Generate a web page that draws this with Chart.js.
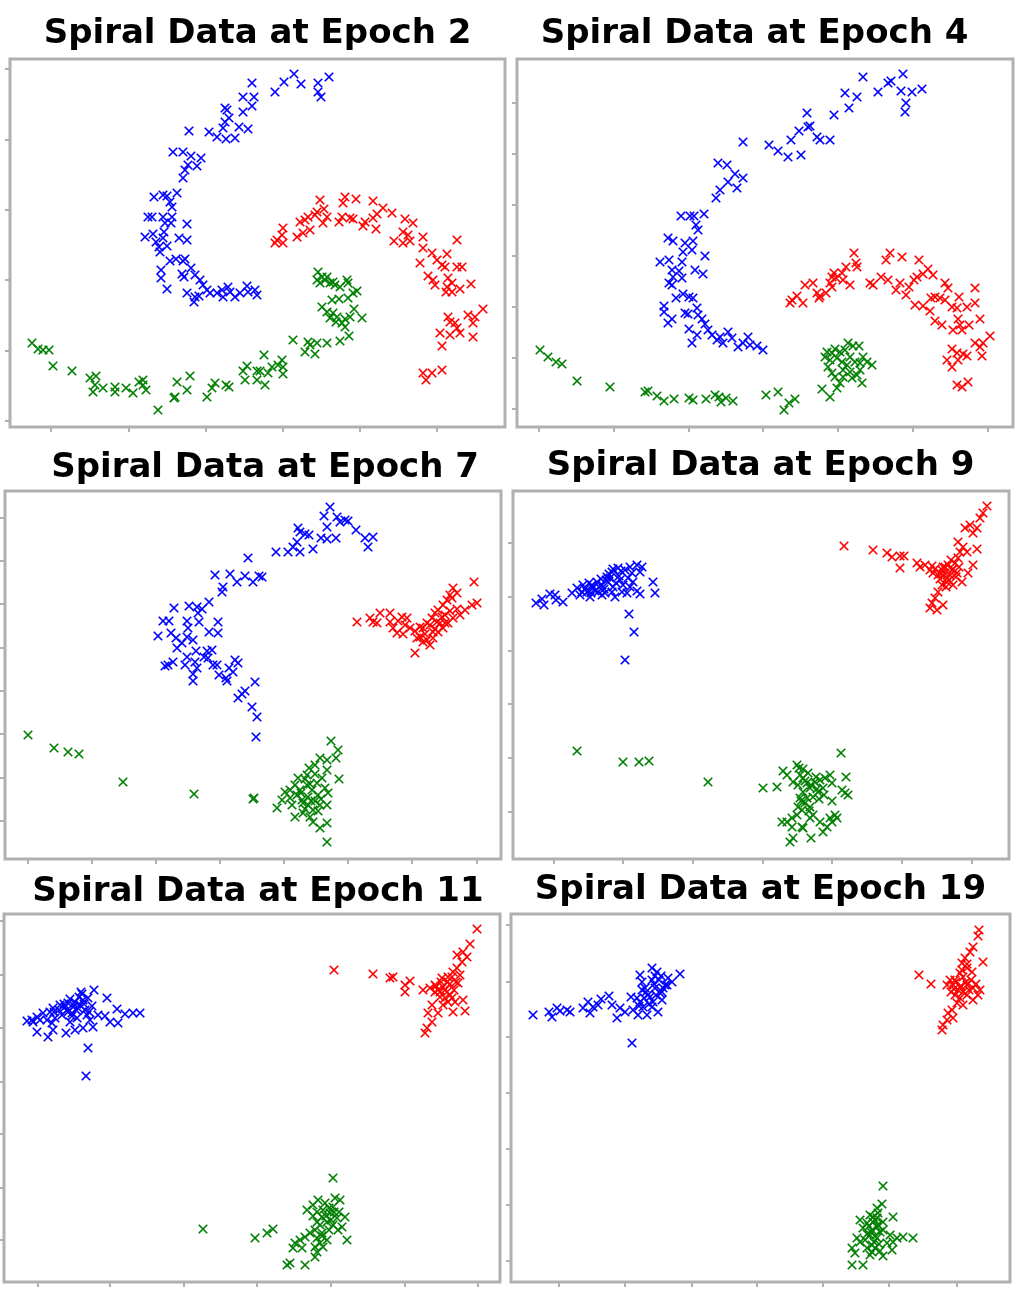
<!DOCTYPE html>
<html>
<head>
<meta charset="utf-8">
<script src="https://cdn.jsdelivr.net/npm/chart.js@4/dist/chart.umd.min.js"></script>
<style>
body { margin: 0; background: #fff; width: 1018px; height: 1290px; position: relative; overflow: hidden; }
canvas { position: absolute; }
</style>
</head>
<body>
<script>
// point positions, in plot units (x from the left edge, y up from the bottom edge)

const ep2Blue = [[242,344],[233,330],[244,330],[242,321],[233,315],[215,319],[217,317],[219,309],[215,305],[213,299],[207,290],[199,295],[216,288],[225,289],[229,300],[238,298],[179,296],[163,275],[173,275],[181,271],[191,269],[187,261],[178,262],[175,257],[173,249],[167,234],[144,230],[153,232],[157,231],[160,225],[162,220],[138,210],[142,210],[153,210],[162,210],[155,204],[161,204],[177,203],[154,195],[135,190],[143,193],[146,185],[153,189],[169,189],[177,187],[149,180],[157,181],[150,175],[160,166],[166,168],[173,166],[175,168],[151,157],[151,149],[172,153],[174,150],[181,159],[185,152],[190,147],[193,142],[157,138],[177,134],[185,130],[184,125],[189,131],[197,137],[200,134],[207,134],[212,137],[213,130],[218,140],[220,135],[225,130],[230,134],[237,141],[238,135],[245,137],[247,132],[265,335],[274,345],[284,353],[291,343],[308,344],[308,335],[311,330],[319,350]];
const ep2Red = [[310,227],[314,218],[335,230],[333,224],[346,228],[363,226],[373,219],[382,214],[367,213],[363,209],[366,198],[355,205],[353,201],[343,208],[340,209],[332,210],[329,205],[317,210],[313,204],[307,215],[305,212],[298,210],[295,207],[290,205],[300,197],[293,194],[287,190],[273,199],[272,192],[267,187],[265,184],[273,184],[395,208],[403,204],[393,195],[398,192],[400,186],[384,186],[393,184],[413,190],[447,187],[413,179],[422,174],[437,173],[410,164],[427,167],[432,162],[435,160],[447,160],[452,160],[418,151],[423,147],[425,142],[438,149],[437,140],[442,144],[436,135],[442,135],[450,138],[461,143],[473,118],[458,112],[465,110],[463,104],[438,110],[440,105],[445,104],[447,99],[430,94],[440,92],[450,94],[463,90],[432,81],[413,54],[416,47],[422,54],[432,57]];
const ep2Green = [[22,84],[28,78],[33,77],[39,77],[43,61],[62,56],[80,49],[86,51],[85,42],[83,35],[93,39],[105,40],[105,35],[116,39],[123,34],[129,45],[133,47],[133,42],[136,37],[148,17],[164,29],[165,30],[167,45],[177,37],[180,51],[197,30],[202,39],[205,44],[216,42],[219,40],[233,56],[237,61],[235,47],[247,56],[247,47],[254,72],[250,56],[258,54],[262,60],[255,42],[272,67],[273,60],[273,53],[268,62],[283,87],[295,75],[298,85],[300,82],[305,73],[307,84],[317,84],[330,86],[339,91],[308,155],[312,150],[307,147],[315,147],[320,144],[325,142],[330,140],[337,147],[338,144],[347,136],[343,134],[322,127],[329,128],[338,129],[312,120],[317,115],[323,114],[327,110],[320,109],[326,105],[332,104],[335,108],[340,110],[344,118],[352,109],[335,100],[317,150],[323,145],[310,144]];
const ep2XTicks = [41,119,196,273,350,427];
const ep2YTicks = [6,76,147,217,287,358];

const ep4Blue = [[226,285],[201,264],[210,262],[218,253],[226,249],[211,245],[203,237],[220,239],[199,229],[164,211],[173,211],[177,211],[187,213],[179,202],[181,197],[151,189],[156,186],[168,184],[176,186],[166,175],[175,177],[188,171],[143,165],[152,167],[165,165],[155,157],[162,156],[178,157],[186,153],[156,150],[165,149],[152,144],[155,142],[166,133],[159,129],[172,130],[176,129],[147,121],[147,115],[168,114],[171,113],[180,119],[155,108],[151,104],[181,112],[185,108],[188,103],[172,98],[191,97],[180,92],[175,84],[195,92],[203,90],[200,87],[206,84],[211,95],[215,89],[221,80],[226,84],[231,90],[233,82],[240,81],[246,77],[252,282],[261,276],[271,270],[284,272],[274,287],[282,296],[290,314],[291,300],[293,301],[300,290],[303,287],[313,287],[317,312],[328,334],[332,319],[340,330],[346,350],[361,335],[371,344],[374,346],[386,353],[384,336],[395,335],[405,338],[389,324],[388,315]];
const ep4Red = [[337,174],[339,164],[340,160],[329,160],[325,154],[317,154],[315,150],[319,149],[326,147],[333,142],[313,144],[315,140],[309,134],[303,131],[300,134],[296,144],[288,142],[280,131],[275,127],[273,124],[286,124],[302,129],[373,174],[369,167],[385,170],[402,167],[411,158],[416,152],[406,153],[400,150],[397,147],[392,140],[383,144],[379,137],[389,132],[371,147],[364,150],[356,142],[353,144],[398,122],[406,121],[413,116],[414,129],[418,130],[423,129],[428,144],[431,139],[428,127],[435,120],[440,119],[442,130],[458,139],[450,120],[458,124],[418,106],[425,102],[441,108],[443,102],[436,97],[445,97],[452,102],[463,108],[473,91],[458,84],[463,80],[466,84],[435,78],[440,74],[446,73],[450,71],[430,67],[441,67],[435,60],[465,71],[440,42],[445,40],[451,45]];
const ep4Green = [[23,77],[31,70],[39,65],[45,63],[60,46],[93,40],[128,35],[131,36],[140,31],[147,26],[157,28],[172,29],[176,27],[189,28],[198,32],[202,30],[204,25],[209,29],[216,26],[249,32],[261,35],[267,17],[272,24],[278,28],[305,38],[313,30],[320,39],[323,44],[318,50],[315,54],[310,75],[308,70],[313,67],[318,78],[323,75],[328,77],[331,84],[336,81],[342,81],[333,70],[338,65],[343,64],[350,65],[355,62],[330,62],[333,55],[340,52],[345,44],[326,50],[335,49],[315,74],[320,69],[325,65],[311,60],[326,57],[343,57],[346,70]];
const ep4XTicks = [22,97,172,246,321,396,471];
const ep4YTicks = [18,69,120,171,222,273,324];

const ep7Blue = [[243,301],[210,284],[225,285],[232,277],[240,283],[248,277],[254,283],[218,272],[217,267],[204,257],[197,250],[192,252],[193,246],[194,237],[184,253],[169,251],[158,238],[164,238],[182,238],[183,231],[153,223],[166,226],[171,221],[177,216],[172,211],[182,222],[188,219],[204,227],[213,237],[213,226],[191,208],[182,202],[180,194],[160,193],[163,194],[168,197],[190,197],[192,191],[188,185],[188,178],[199,202],[202,208],[207,209],[203,201],[208,194],[212,194],[214,184],[221,181],[222,178],[224,191],[230,199],[233,196],[228,187],[240,168],[237,165],[233,161],[250,177],[247,152],[252,142],[251,122],[325,352],[319,343],[332,342],[322,332],[335,337],[340,339],[343,338],[351,329],[360,321],[368,322],[363,312],[293,331],[295,327],[300,325],[304,324],[292,317],[288,312],[283,307],[271,307],[295,307],[308,310],[316,321],[322,320],[331,321],[257,282]];
const ep7Red = [[469,277],[448,271],[445,264],[442,259],[438,254],[433,249],[430,246],[427,241],[422,236],[418,231],[415,222],[410,206],[425,214],[428,221],[433,227],[438,231],[443,236],[448,241],[455,244],[460,249],[467,254],[472,256],[432,237],[437,242],[425,234],[402,241],[397,242],[393,238],[400,234],[405,231],[388,231],[392,226],[398,225],[412,221],[385,246],[385,237],[375,246],[372,236],[365,241],[368,237],[352,237],[422,219],[418,217],[447,261],[452,266],[430,230],[435,236],[428,227],[440,236],[445,248],[420,225],[410,228],[415,232],[452,250],[440,244]];
const ep7Green = [[23,124],[49,111],[63,107],[74,105],[118,77],[189,65],[248,60],[249,61],[326,118],[333,109],[331,101],[334,80],[322,99],[315,101],[310,94],[304,91],[302,84],[322,89],[317,81],[312,76],[320,71],[323,66],[293,81],[290,74],[285,69],[280,67],[277,59],[272,51],[285,61],[292,64],[297,59],[303,54],[308,49],[315,54],[322,54],[290,42],[298,46],[305,42],[308,37],[315,31],[322,36],[322,17],[298,56],[295,69],[307,69],[313,64],[302,74],[287,54],[300,80],[305,75],[310,85],[296,66],[303,62],[310,58],[316,60],[300,50],[306,58],[313,48]];
const ep7XTicks = [23,87,151,215,279,343,407,472];
const ep7YTicks = [38,81,125,168,211,255,298,341];

const ep9Blue = [[23,256],[29,260],[31,254],[37,265],[42,264],[43,259],[50,257],[59,266],[64,271],[67,264],[70,274],[74,267],[77,262],[80,271],[84,277],[85,267],[89,274],[92,266],[94,282],[95,277],[99,287],[100,272],[102,262],[105,291],[107,279],[109,267],[112,289],[114,266],[117,292],[119,286],[117,272],[124,294],[127,287],[129,292],[124,268],[127,265],[140,277],[142,266],[116,245],[121,227],[112,199],[69,267],[99,267],[89,264],[79,274],[97,281],[72,270],[76,276],[82,268],[88,280],[91,270],[96,285],[103,276],[106,283],[110,274],[115,281],[120,277],[108,288],[100,290],[93,279],[86,272],[78,266]];
const ep9Red = [[331,313],[360,309],[374,306],[379,302],[387,303],[391,303],[387,291],[404,296],[407,292],[412,294],[417,289],[420,286],[425,284],[429,289],[432,292],[435,294],[439,289],[442,296],[445,301],[447,307],[450,312],[454,307],[445,317],[452,331],[457,334],[460,326],[464,331],[467,341],[470,346],[474,353],[464,310],[460,294],[455,286],[449,277],[440,274],[434,281],[429,274],[425,267],[422,261],[419,256],[417,251],[424,249],[430,254],[434,277],[437,284],[444,286],[427,280],[432,286],[436,279],[440,290],[430,292],[438,299],[443,282],[446,292],[433,272],[428,285],[422,290],[419,293]];
const ep9Green = [[64,108],[110,97],[126,97],[136,98],[195,77],[250,71],[264,72],[270,88],[274,84],[328,106],[333,82],[284,94],[286,91],[287,84],[290,81],[280,77],[285,74],[294,76],[297,71],[302,77],[307,79],[312,81],[317,84],[319,76],[310,71],[305,67],[290,67],[287,61],[294,61],[285,52],[289,49],[284,44],[279,41],[274,37],[269,37],[279,32],[290,31],[297,41],[300,44],[297,52],[307,37],[310,27],[314,32],[319,37],[322,44],[324,41],[317,41],[319,58],[329,69],[332,66],[335,64],[277,17],[280,21],[298,21],[289,32],[292,78],[298,74],[304,70],[300,62],[292,56],[296,48],[288,58],[306,60],[311,64],[303,82],[295,86],[290,90]];
const ep9XTicks = [41,110,180,250,319,389,459];
const ep9YTicks = [47,101,155,208,262,316];

const ep11Blue = [[90,292],[103,284],[113,273],[121,268],[129,269],[136,269],[106,260],[114,259],[94,267],[101,266],[78,288],[79,282],[76,277],[71,280],[64,279],[61,275],[56,277],[49,274],[46,270],[39,269],[33,265],[28,262],[23,261],[29,260],[43,262],[51,264],[58,267],[68,269],[73,264],[83,267],[86,262],[81,272],[48,259],[66,260],[79,254],[89,255],[33,250],[44,245],[49,252],[62,249],[71,252],[84,234],[82,206],[36,262],[63,272],[74,274],[60,278],[66,283],[70,276],[75,285],[80,278],[84,284],[77,290],[72,272],[64,270],[55,272],[50,270],[88,276],[85,270],[68,266]];
const ep11Red = [[473,353],[466,338],[459,330],[453,327],[463,325],[458,320],[453,314],[449,310],[456,307],[448,305],[454,299],[443,300],[438,304],[439,295],[434,292],[443,290],[446,287],[436,285],[431,290],[426,294],[419,292],[444,280],[451,280],[459,282],[461,271],[449,270],[439,277],[434,269],[428,277],[424,269],[428,260],[423,254],[421,249],[406,301],[401,297],[401,290],[389,305],[386,304],[369,308],[330,312],[431,297],[437,300],[441,292],[446,298],[450,292],[444,305],[436,290],[432,296],[448,284],[441,284],[452,300]];
const ep11Green = [[199,53],[251,44],[263,49],[269,53],[329,104],[331,84],[336,82],[341,65],[338,55],[343,42],[329,75],[326,69],[333,64],[321,79],[314,82],[309,77],[303,72],[313,70],[318,65],[323,60],[329,57],[334,52],[316,57],[311,52],[306,49],[301,45],[296,42],[291,39],[289,34],[298,34],[313,44],[316,39],[319,35],[313,30],[311,25],[301,17],[286,19],[283,17],[323,42],[318,49],[325,74],[330,70],[322,66],[327,62],[319,72],[335,70],[313,60],[309,66],[325,52],[318,46],[311,35]];
const ep11XTicks = [34,106,180,253,327,401,474];
const ep11YTicks = [42,94,148,200,254,307,361];

const ep19Blue = [[22,267],[38,270],[41,265],[46,274],[49,271],[56,272],[59,270],[72,274],[77,280],[79,269],[82,275],[87,277],[90,283],[98,286],[101,277],[106,264],[109,274],[114,270],[120,285],[122,272],[127,267],[121,239],[129,307],[131,300],[134,294],[137,287],[129,280],[132,275],[136,267],[141,314],[146,310],[141,302],[144,294],[149,289],[142,280],[147,270],[152,294],[157,304],[161,300],[169,308],[154,297],[151,282],[141,275],[126,284],[131,292],[135,290],[139,285],[143,298],[148,302],[151,290],[145,287],[138,278],[133,284],[128,276],[156,297],[150,306],[144,306]];
const ep19Red = [[408,307],[420,298],[468,352],[467,346],[462,335],[459,330],[472,320],[454,324],[451,319],[456,314],[461,310],[449,309],[452,305],[439,302],[442,297],[449,295],[456,297],[462,294],[469,292],[467,287],[462,282],[456,287],[449,284],[444,287],[446,279],[452,277],[441,272],[437,269],[442,264],[436,262],[432,257],[431,252],[436,297],[444,302],[445,300],[450,296],[455,300],[458,292],[452,290],[447,292],[460,302],[465,298],[451,312],[456,318],[443,293],[440,290]];
const ep19Green = [[372,96],[371,78],[366,74],[382,65],[359,67],[364,62],[356,59],[349,62],[352,54],[361,52],[367,57],[372,52],[379,47],[386,44],[392,45],[402,44],[382,40],[376,39],[381,32],[366,44],[359,47],[354,42],[349,40],[346,44],[341,34],[344,29],[341,17],[352,17],[359,27],[364,34],[372,26],[361,37],[356,34],[369,31],[362,65],[367,69],[362,60],[366,55],[360,50],[364,46],[369,50],[358,56],[372,60],[356,48],[363,40],[368,38],[361,30],[366,64]];
const ep19XTicks = [48,114,181,246,312,378,446];
const ep19YTicks = [21,77,133,189,245,300,357];

// page layout: frame box [left, top, right, bottom], title centre x and middle y
const panels = [
    { title: 'Spiral Data at Epoch 2', blue: ep2Blue, red: ep2Red, green: ep2Green, xTicks: ep2XTicks, yTicks: ep2YTicks, frame: [10, 59, 505, 427], tx: 257.5, ty: 34 },
    { title: 'Spiral Data at Epoch 4', blue: ep4Blue, red: ep4Red, green: ep4Green, xTicks: ep4XTicks, yTicks: ep4YTicks, frame: [517, 59, 1013, 427], tx: 754.5, ty: 34 },
    { title: 'Spiral Data at Epoch 7', blue: ep7Blue, red: ep7Red, green: ep7Green, xTicks: ep7XTicks, yTicks: ep7YTicks, frame: [5, 491, 501, 859], tx: 265, ty: 468 },
    { title: 'Spiral Data at Epoch 9', blue: ep9Blue, red: ep9Red, green: ep9Green, xTicks: ep9XTicks, yTicks: ep9YTicks, frame: [513, 491, 1009, 859], tx: 760.5, ty: 466 },
    { title: 'Spiral Data at Epoch 11', blue: ep11Blue, red: ep11Red, green: ep11Green, xTicks: ep11XTicks, yTicks: ep11YTicks, frame: [4, 914, 500, 1282], tx: 258, ty: 892 },
    { title: 'Spiral Data at Epoch 19', blue: ep19Blue, red: ep19Red, green: ep19Green, xTicks: ep19XTicks, yTicks: ep19YTicks, frame: [511, 914, 1010, 1282], tx: 760.5, ty: 890 }
];

const titleSize = 34;
const titleLine = titleSize * 1.2;

// gray box round the plot area plus the little outside tick marks
const framePlugin = {
    id: 'frame',
    afterDatasetsDraw(chart, args, opts) {
        const { ctx, chartArea: a, scales } = chart;
        ctx.save();
        ctx.strokeStyle = '#b0b0b0';
        ctx.lineWidth = 3;
        ctx.strokeRect(a.left, a.top, a.right - a.left, a.bottom - a.top);
        ctx.lineWidth = 2;
        ctx.beginPath();
        opts.xTicks.forEach(v => {
            const px = Math.round(scales.x.getPixelForValue(v));
            ctx.moveTo(px, a.bottom + 1);
            ctx.lineTo(px, a.bottom + 5);
        });
        opts.yTicks.forEach(v => {
            const py = Math.round(scales.y.getPixelForValue(v));
            ctx.moveTo(a.left - 1, py);
            ctx.lineTo(a.left - 5, py);
        });
        ctx.stroke();
        ctx.restore();
    }
};

function makeSet(points, color) {
    return {
        data: points.map(p => ({ x: p[0], y: p[1] })),
        pointStyle: 'crossRot',
        pointRadius: 6,
        pointBorderWidth: 1.7,
        pointBorderColor: color,
        pointBackgroundColor: color,
        showLine: false
    };
}

panels.forEach(p => {
    const [L, T, R, B] = p.frame;
    const half = Math.max(p.tx - (L - 8), (R + 8) - p.tx);
    const left = Math.floor(p.tx - half);
    const width = Math.round(half * 2);
    const top = Math.round(p.ty - titleLine / 2);
    const height = B + 8 - top;
    const leftW = L - left;
    const rightW = left + width - R;
    const padBottom = T - top - titleLine;

    const canvas = document.createElement('canvas');
    canvas.width = width;
    canvas.height = height;
    canvas.style.left = left + 'px';
    canvas.style.top = top + 'px';
    document.body.appendChild(canvas);

    new Chart(canvas, {
        type: 'scatter',
        data: {
            datasets: [makeSet(p.blue, '#0000ff'), makeSet(p.red, '#ff0000'), makeSet(p.green, '#008000')]
        },
        options: {
            responsive: false,
            animation: false,
            devicePixelRatio: 1,
            layout: { padding: 0 },
            plugins: {
                legend: { display: false },
                tooltip: { enabled: false },
                title: {
                    display: true,
                    text: p.title,
                    color: '#000',
                    font: { family: 'DejaVu Sans', size: titleSize, weight: 'bold', lineHeight: 1.2 },
                    padding: { top: 0, bottom: padBottom }
                },
                frame: { xTicks: p.xTicks, yTicks: p.yTicks }
            },
            scales: {
                x: {
                    type: 'linear', min: 0, max: R - L,
                    ticks: { display: false }, grid: { display: false }, border: { display: false },
                    afterFit: s => { s.height = 8; }
                },
                y: {
                    type: 'linear', min: 0, max: B - T, position: 'left',
                    ticks: { display: false }, grid: { display: false }, border: { display: false },
                    afterFit: s => { s.width = leftW; }
                },
                yr: {
                    type: 'linear', position: 'right',
                    ticks: { display: false }, grid: { display: false }, border: { display: false },
                    afterFit: s => { s.width = rightW; }
                }
            }
        },
        plugins: [framePlugin]
    });
});
</script>
</body>
</html>
